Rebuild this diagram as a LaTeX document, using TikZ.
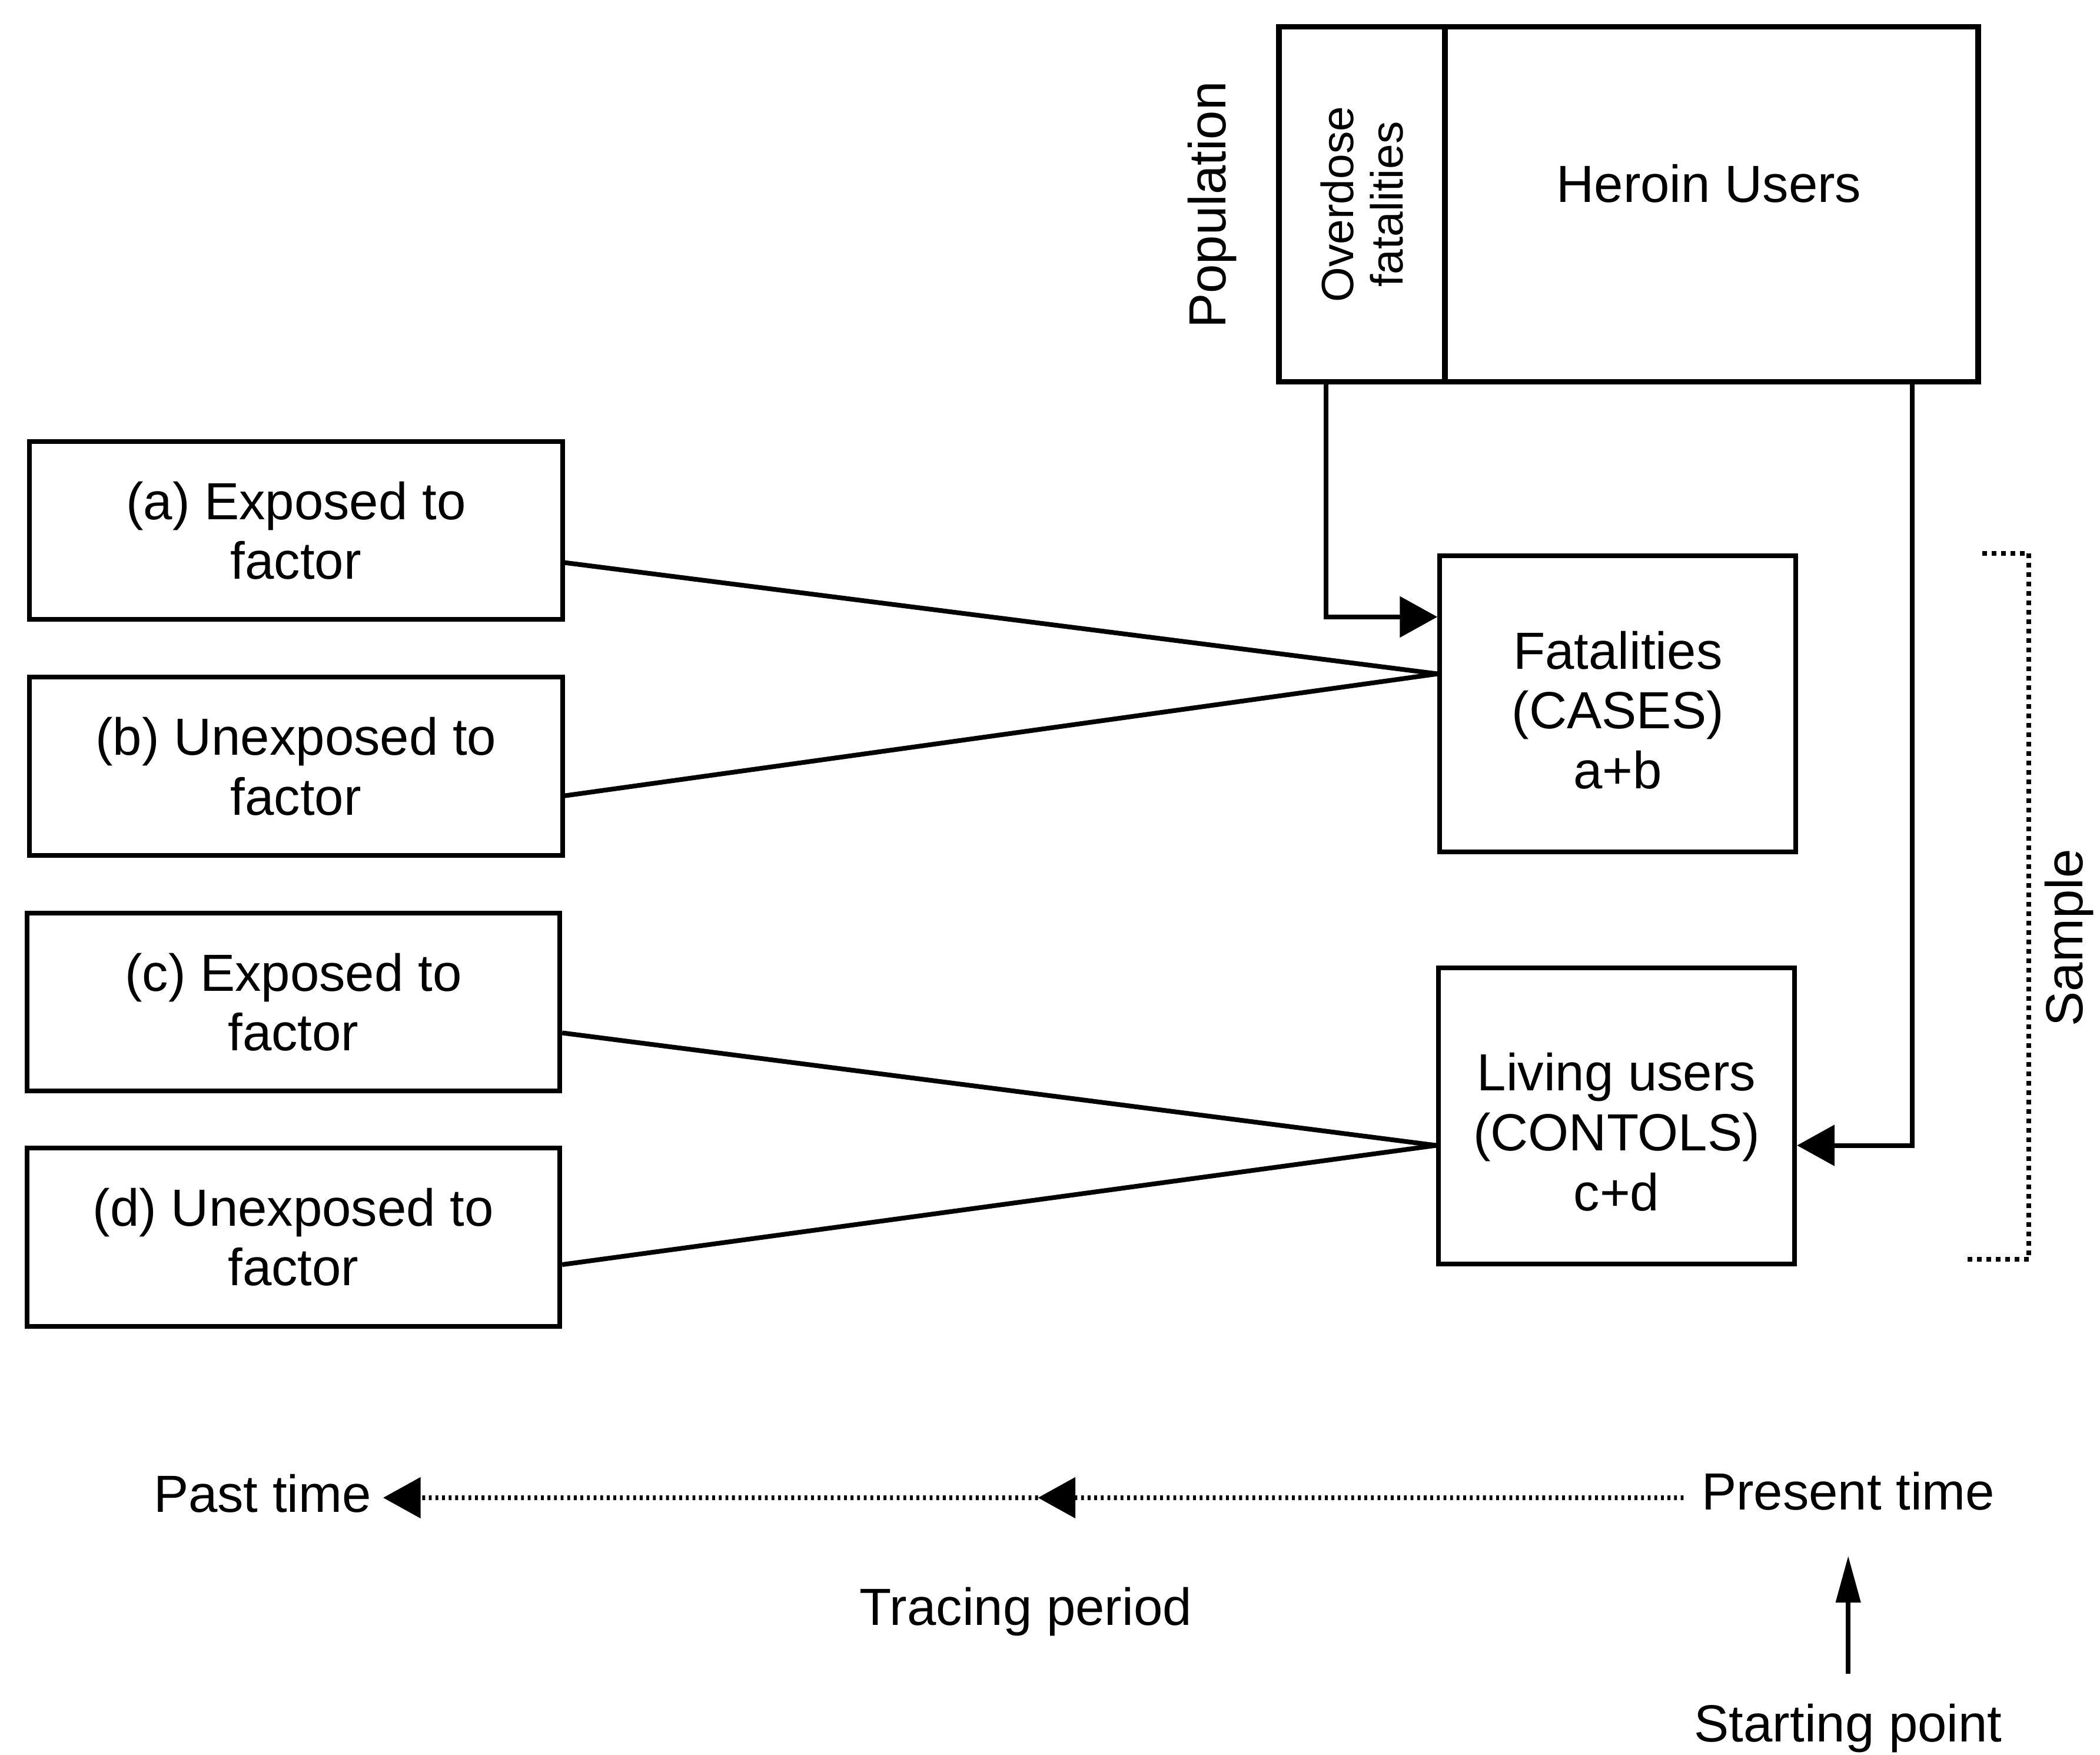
\documentclass[tikz,border=0pt]{standalone}
\usepackage{fontspec}
\setmainfont{Liberation Sans}
\usetikzlibrary{arrows.meta}
\begin{document}
\begin{tikzpicture}[x=0.1mm,y=-0.1mm,line width=1pt,
    font=\fontsize{11.1}{12.7}\selectfont,
    factbox/.style={rectangle,draw,minimum width=39.8mm,minimum height=13.3mm,align=center,inner sep=0pt},
    groupbox/.style={rectangle,draw,minimum width=26.6mm,minimum height=22.1mm,inner sep=0pt},
    popbox/.style={rectangle,draw,line width=1.2pt,minimum height=26.5mm},
    headarrow/.style={-{Triangle[length=2.8mm,width=3mm]}},
    timeline/.style={dash pattern=on 0.6pt off 0.8pt}]
  \useasboundingbox (0,0) rectangle (1568,1310);
  % population
  \node[popbox,minimum width=39.8mm] (users) at (1278,152.5) {};
  \node (userstxt) at (1276,137) {Heroin Users};
  \node[popbox,rotate=90,minimum width=26.5mm,minimum height=12.4mm,align=center,font=\fontsize{9.6}{10.5}\selectfont] (od) at (1017,152.5) {Overdose\\fatalities};
  \node[rotate=90] (pop) at (905,153) {Population};
  % exposure boxes
  \node[factbox] (a) at (221,396) {(a) Exposed to\\factor};
  \node[factbox] (b) at (221,572) {(b) Unexposed to\\factor};
  \node[factbox] (c) at (219,748) {(c) Exposed to\\factor};
  \node[factbox] (d) at (219,923.5) {(d) Unexposed to\\factor};
  % sample
  \node[groupbox] (cases) at (1208,525.5) {};
  \node[align=center] (casestxt) at (1208,530) {Fatalities\\(CASES)\\a+b};
  \node[groupbox] (ctrl) at (1207,833) {};
  \node[align=center] (ctrltxt) at (1207,845) {Living users\\(CONTOLS)\\c+d};
  \draw ([yshift=-2.4mm]a.east) -- ([yshift=2.25mm]cases.west);
  \draw ([yshift=-2.2mm]b.east) -- ([yshift=2.25mm]cases.west);
  \draw ([yshift=-2.3mm]c.east) -- ([yshift=-2.2mm]ctrl.west);
  \draw ([yshift=-2.05mm]d.east) -- ([yshift=-2.2mm]ctrl.west);
  \draw[headarrow] ([xshift=-2.7mm]od.west) |- ([yshift=6.5mm]cases.west);
  \draw[headarrow] ([xshift=15mm]users.south) |- ([yshift=-2.2mm]ctrl.east);
  \draw[densely dotted] (1480,413) -- (1515,413) -- (1515,940) -- (1467,940);
  \node[rotate=90] (sample) at (1545,700) {Sample};
  % time
  \node (present) at (1380,1113) {Present time};
  \node[inner xsep=2pt] (past) at (196,1115) {Past time};
  \coordinate (mid) at (775,1118);
  \draw[timeline,headarrow] ([yshift=-0.5mm]present.west) -- (mid);
  \draw[timeline,headarrow] (mid) -- ([yshift=-0.3mm]past.east);
  \node (trace) at (766,1203) {Tracing period};
  \node (start) at (1380,1290) {Starting point};
  \draw[-{Triangle[length=3.5mm,width=1.8mm]},shorten <=0.9mm,shorten >=2.05mm] (start.north) -- (present.south);
\end{tikzpicture}
\end{document}
